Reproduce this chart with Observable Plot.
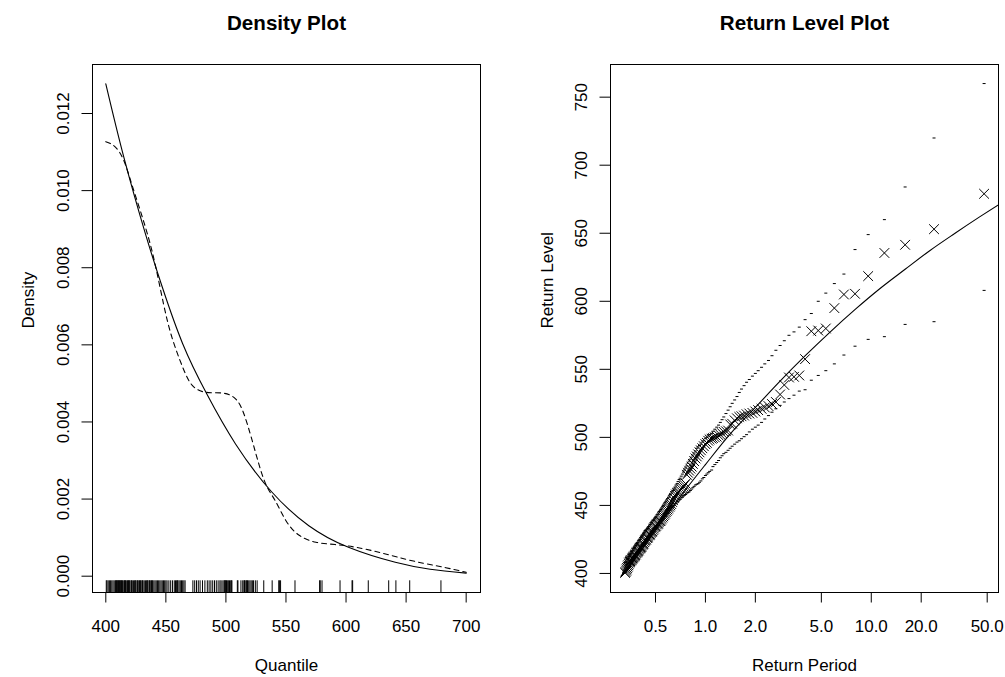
<!DOCTYPE html>
<html><head><meta charset="utf-8">
<script src="https://cdn.jsdelivr.net/npm/d3@7"></script>
<script src="https://cdn.jsdelivr.net/npm/@observablehq/plot@0.6"></script>
<style>
body{margin:0;background:#fff;}
#wrap{position:relative;width:1005px;height:677px;overflow:hidden;background:#fff;}
#p1,#p2{position:absolute;top:0;}
#p1{left:0;} #p2{left:502px;}
</style></head><body><div id="wrap"><div id="p1"></div><div id="p2"></div></div>
<script>
// ---- Density panel ----
const densityTitle = "Density Plot";
const densityXLabel = "Quantile";
const densityYLabel = "Density";
const fittedQuantile = [400, 415, 433, 447, 464, 484, 508, 538, 569, 602, 641, 670, 700];
const fittedDensity  = [0.01277, 0.01087, 0.00888, 0.0075, 0.00603, 0.00473, 0.00343, 0.00219, 0.00131, 0.00075, 0.00036, 0.00018, 0.00008];
const kdeQuantile = [400, 408, 415, 422, 433, 441, 448, 455, 464, 472, 483, 497, 508, 516, 525, 533, 541, 550, 561, 575, 591, 608, 630, 655, 683, 700];
const kdeDensity  = [0.01127, 0.01113, 0.01078, 0.01013, 0.00905, 0.0081, 0.00707, 0.0062, 0.00542, 0.00495, 0.00477, 0.00475, 0.0046, 0.00412, 0.00317, 0.0024, 0.00196, 0.00144, 0.00106, 0.00088, 0.00082, 0.00075, 0.0006, 0.0004, 0.00022, 0.0001];
const densityXTicks = [400, 450, 500, 550, 600, 650, 700];
const densityYTicks = [0, 0.002, 0.004, 0.006, 0.008, 0.010, 0.012];

// ---- Return level panel ----
const rlTitle = "Return Level Plot";
const rlXLabel = "Return Period";
const rlYLabel = "Return Level";
const returnPeriod = [47.9,23.9,16.0,12.0,9.58,7.98,6.84,5.99,5.32,4.79,4.35,3.99,3.68,3.42,3.19,2.99,2.82,2.66,2.52,2.40,
2.28,2.18,2.08,2.00,1.92,1.84,1.77,1.71,1.65,1.60,1.55,1.50,1.45,1.41,1.37,1.33,1.29,1.26,1.23,1.20,
1.17,1.14,1.11,1.09,1.06,1.04,1.02,1.00,0.978,0.958,0.939,0.921,0.904,0.887,0.871,0.855,0.840,0.826,0.812,0.798,
0.785,0.773,0.760,0.748,0.737,0.726,0.715,0.704,0.694,0.684,0.675,0.665,0.656,0.647,0.639,0.630,0.622,0.614,0.606,0.599,
0.591,0.584,0.577,0.570,0.564,0.557,0.551,0.544,0.538,0.532,0.526,0.521,0.515,0.510,0.504,0.499,0.494,0.489,0.484,0.479,
0.474,0.470,0.465,0.461,0.456,0.452,0.448,0.444,0.439,0.435,0.432,0.428,0.424,0.420,0.417,0.413,0.409,0.406,0.403,0.399,
0.396,0.393,0.389,0.386,0.383,0.380,0.377,0.374,0.371,0.368,0.366,0.363,0.360,0.357,0.355,0.352,0.350,0.347,0.345,0.342,
0.340,0.337,0.335,0.333,0.330,0.328];
const returnLevel = [679,653,641.5,635.5,618.5,605.5,605,595,580,578.5,578,557.5,545.5,544.5,544,538.5,531.5,526,524.5,523,
522,521,520,519,518,517.5,517,516,515.5,515,514,512.5,510,509.5,505,504.5,504,503,502,501.5,
500.5,500,499.5,499,498.5,497.5,496,495,493.5,492,490.5,489,487.5,486,484.5,482.5,480.5,478.5,477,475.5,
474,472.5,466,465,464,463,462,461,460,459.5,459,458,457,455.5,454,452.5,451,450,449,448,
447,446,445,444,443,442,441,440,439,438.5,438,437,436.5,436,435,434.5,434,433,432,431,
430.5,430,429,428.5,428,427,426.5,426,425,424.5,424,423,422,421.5,421,420,419.5,419,418.5,418,
417,416.5,416,415.5,415,414,413.5,413,412.5,412,411.5,411,410.5,410,409.5,409,408.5,408,407,406,
405,404,403,402,401,400.4];
const upperBound = [760,720,684,660,649,638,620,613,606,600,591,586.5,581,577.5,575,571,567.5,564,560,556.5,
554,551.5,549,547,545,542.5,540.5,538,535.5,533,530,527.5,525,522.5,520,517.5,515,513,511,509,
507.5,506,504.5,503,502,501,500,499,497.5,496.5,495,494,493,492,490,488.5,487,485.5,484,482.5,
481,479,477.5,476,474.5,473,471.5,470,469,467.5,466,465,463.5,462,461,460,459,458,457,456,
455,454,453,452,451,450,449,448,447,446,445.5,444.5,443.5,443,442,441,440.5,439.5,439,438.5,
437.5,437,436,435.5,434.5,434,433,432.5,432,431.5,431,430,429.5,428.5,428,427,426.5,426,425,424.5,
424,423,422.5,422,421.5,420.5,420,419,418.5,418,417,416.5,416,415,414.5,414,413,412.5,412,411,
410.5,410,409,408.5,408,407];
const lowerBound = [608,585,583,574,572,567,560.5,554,549,545.5,542,535,534,531,528.5,526,523.5,521,518.5,516,
513.5,511,509,507.5,506,504,502,500.5,499,497.5,496.5,495,493.5,492,490.5,489,488,486.5,485,483,
481.5,480,478.5,476,475,474,473,472,470.5,469.5,468,467,466,465.5,465,464,463,462,461,460,
459.5,459,458,457.5,457,456,455.5,454.5,454,453,452.5,451.5,451,450,449,448.5,447.5,446.5,446,445,
444,443,442,441.5,440.5,439.5,439,438,437,436.5,435.5,435,434,433.5,432.5,432,431,430.5,430,429,
428.5,428,427,426.5,426,425,424.5,424,423,422.5,422,421,420.5,420,419.5,418.5,418,417.5,417,416,
415.5,415,414.5,414,413,412.5,412,411.5,411,410,409.5,409,408.5,408,407.5,407,406,405.5,405,404.5,
404,403,402.5,402,401,400.5];
const fittedPeriod = [0.31, 0.4, 0.5, 0.7, 1.0, 1.4, 2.0, 2.8, 4.0, 5.6, 8.0, 11.2, 16, 22.4, 32, 45, 64];
const fittedLevel  = [398, 415, 432, 456, 480, 502, 522, 541, 560, 577, 594, 609, 623.5, 637, 650, 662, 674];
const rlXTicks = [0.5, 1, 2, 5, 10, 20, 50];
const rlYTicks = [400, 450, 500, 550, 600, 650, 700, 750];

// ---- build ----
const FONT = "'Liberation Sans', Arial, Helvetica, sans-serif";
const common = {
  height: 677, marginTop: 64, marginBottom: 85,
  style: {fontFamily: FONT, fontSize: "17px", color: "black", background: "white", overflow: "visible"}
};
const fittedD = fittedQuantile.map((x, i) => ({x, y: fittedDensity[i]}));
const kdeD = kdeQuantile.map((x, i) => ({x, y: kdeDensity[i]}));
const rlPts = returnPeriod.map((t, i) => ({t, z: returnLevel[i], lo: lowerBound[i], hi: upperBound[i]}));
const rlFit = fittedPeriod.map((t, i) => ({t, z: fittedLevel[i]}));
const dash = {draw(ctx, size) { const r = Math.sqrt(size / Math.PI); ctx.moveTo(-r, 0); ctx.lineTo(r, 0); }};
const blank = () => "";

const left = Plot.plot({
  ...common, width: 502, marginLeft: 92, marginRight: 22,
  x: {domain: [388.93, 711.93]},
  y: {domain: [-0.000423, 0.013271]},
  marks: [
    Plot.line(fittedD, {x: "x", y: "y", stroke: "black", strokeWidth: 1.1, curve: "natural"}),
    Plot.line(kdeD, {x: "x", y: "y", stroke: "black", strokeWidth: 1.1, strokeDasharray: "5,4", curve: "natural"}),
    Plot.ruleX(returnLevel, {x: d => d, insetTop: 516.3, stroke: "black", strokeWidth: 1}),
    Plot.frame({stroke: "black", strokeWidth: 1}),
    Plot.axisX(densityXTicks, {tickSize: 10.5, tickPadding: 16.8, label: null, fontSize: 17, stroke: "black"}),
    Plot.axisY(densityYTicks, {tickSize: 10.5, tickPadding: 13.5, tickRotate: -90, tickFormat: d3.format(".3f"), label: null, fontSize: 17, stroke: "black"}),
    Plot.text([densityTitle], {text: d => d, frameAnchor: "top", dy: -49, fontWeight: "bold", fontSize: 20.6}),
    Plot.text([densityXLabel], {text: d => d, frameAnchor: "bottom", dy: 78, fontSize: 17}),
    Plot.text([densityYLabel], {text: d => d, frameAnchor: "left", dx: -64, rotate: -90, fontSize: 17})
  ]
});
document.getElementById("p1").append(left);

const right = Plot.plot({
  ...common, width: 503, marginLeft: 108, marginRight: 7,
  x: {type: "log", domain: [0.2677, 58.5]},
  y: {domain: [386, 774]},
  marks: [
    Plot.line(rlFit, {x: "t", y: "z", stroke: "black", strokeWidth: 1.1, curve: "monotone-x", clip: true}),
    Plot.dot(rlPts, {x: "t", y: "hi", symbol: dash, r: 1.5, stroke: "black", fill: "none", strokeWidth: 1}),
    Plot.dot(rlPts, {x: "t", y: "lo", symbol: dash, r: 1.5, stroke: "black", fill: "none", strokeWidth: 1}),
    Plot.dot(rlPts, {x: "t", y: "z", symbol: "times", r: 4.5, stroke: "black", fill: "none", strokeWidth: 1}),
    Plot.frame({stroke: "black", strokeWidth: 1}),
    Plot.axisX(rlXTicks, {tickSize: 10.5, tickFormat: blank, label: null, stroke: "black"}),
    Plot.text(rlXTicks, {x: d => d, text: d => d3.format(".1f")(d), frameAnchor: "bottom", lineAnchor: "top", dy: 27.3, fontSize: 17}),
    Plot.axisY(rlYTicks, {tickSize: 10.5, tickPadding: 13.5, tickRotate: -90, tickFormat: d3.format("d"), label: null, fontSize: 17, stroke: "black"}),
    Plot.text([rlTitle], {text: d => d, frameAnchor: "top", dy: -49, fontWeight: "bold", fontSize: 20.6}),
    Plot.text([rlXLabel], {text: d => d, frameAnchor: "bottom", dy: 78, fontSize: 17}),
    Plot.text([rlYLabel], {text: d => d, frameAnchor: "left", dx: -63, rotate: -90, fontSize: 17})
  ]
});
document.getElementById("p2").append(right);
</script></body></html>
